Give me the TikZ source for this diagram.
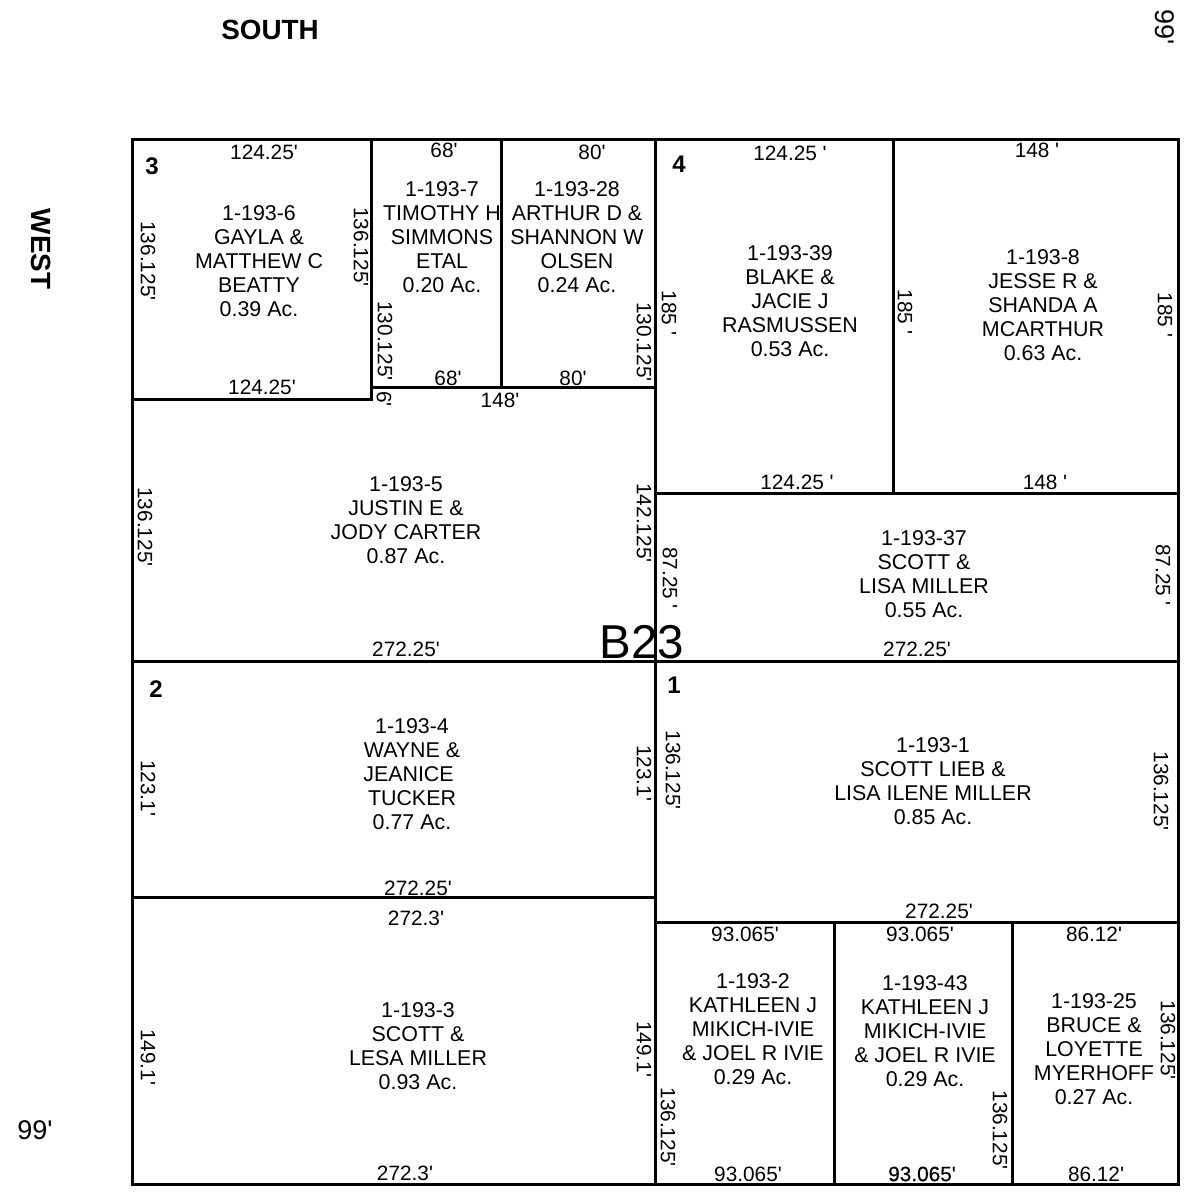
\documentclass[tikz,border=0pt]{standalone}
\usepackage{fontspec}
\setmonofont[WordSpace=1]{Liberation Sans}
\tikzset{
  lot/.style={line width=3pt,line cap=rect},
  lbl/.style={inner sep=0pt,align=center,font=\ttfamily\fontsize{21.4}{24}\selectfont},
  dim/.style={inner sep=0pt,align=center,font=\ttfamily\fontsize{20.8}{24}\selectfont},
  vert/.style={dim,rotate=-90},
  corner/.style={inner sep=0pt,font=\ttfamily\fontsize{24}{28}\bfseries\selectfont},
  head/.style={inner sep=0pt,font=\ttfamily\fontsize{27.8}{32}\bfseries\selectfont},
  big/.style={inner sep=0pt,font=\ttfamily\fontsize{27}{32}\selectfont}
}
\newcommand{\LL}[3]{\node[lbl] at (#1,#2) {#3};}
\newcommand{\DD}[3]{\node[dim] at (#1,#2) {#3};}
\newcommand{\VV}[3]{\node[vert] at (#1,#2) {#3};}
\begin{document}
\begin{tikzpicture}[x=1pt,y=-1pt]
\useasboundingbox (0,0) rectangle (1193,1192);
\fill[white] (0,0) rectangle (1193,1192);
\draw[lot] (132,139) rectangle (1178,1184);
\draw[lot] (655,139) -- (655,1184);
\draw[lot] (132,661) -- (1178,661);
\draw[lot] (371,139) -- (371,399) -- (132,399);
\draw[lot] (501,139) -- (501,387);
\draw[lot] (371,387) -- (655,387);
\draw[lot] (893,139) -- (893,493);
\draw[lot] (655,493) -- (1178,493);
\draw[lot] (132,897) -- (655,897);
\draw[lot] (655,922) -- (1178,922);
\draw[lot] (834,922) -- (834,1184);
\draw[lot] (1012,922) -- (1012,1184);
\node[head] at (270,30) {SOUTH};
\node[head,rotate=-90] at (41,249) {WEST};
\node[big,rotate=-90] at (1165,27) {99'};
\node[big] at (35,1130) {99'};
\node[lbl,font=\ttfamily\fontsize{47.5}{56}\selectfont] at (642,642) {B23};
\node[corner] at (152,166) {3};
\node[corner] at (679,164) {4};
\node[corner] at (156,689) {2};
\node[corner] at (674,685) {1};
% top block
\DD{264}{152}{124.25'}
\DD{444}{150}{68'}
\DD{592}{152}{80'}
\DD{790}{153}{124.25 '}
\DD{1037}{150}{148 '}
\LL{259}{261}{1-193-6\\GAYLA \&\\MATTHEW C\\BEATTY\\0.39 Ac.}
\LL{442}{237}{1-193-7\\TIMOTHY H\\SIMMONS\\ETAL\\0.20 Ac.}
\LL{577}{237}{1-193-28\\ARTHUR D \&\\SHANNON W\\OLSEN\\0.24 Ac.}
\LL{790}{301}{1-193-39\\BLAKE \&\\JACIE J\\RASMUSSEN\\0.53 Ac.}
\LL{1043}{305}{1-193-8\\JESSE R \&\\SHANDA A\\MCARTHUR\\0.63 Ac.}
\VV{148}{261}{136.125'}
\VV{361}{247}{136.125'}
\VV{385}{341}{130.125'}
\VV{644}{342}{130.125'}
\VV{669}{313}{185 '}
\VV{905}{312}{185 '}
\VV{1165}{315}{185 '}
\DD{262}{387}{124.25'}
\DD{448}{378}{68'}
\DD{573}{378}{80'}
\DD{500}{400}{148'}
\VV{384}{399}{6'}
\DD{797}{482}{124.25 '}
\DD{1045}{482}{148 '}
% lot 5 and 37
\LL{406}{520}{1-193-5\\JUSTIN E \&\\JODY CARTER\\0.87 Ac.}
\VV{145}{527}{136.125'}
\VV{644}{523}{142.125'}
\DD{406}{649}{272.25'}
\LL{924}{574}{1-193-37\\SCOTT \&\\LISA MILLER\\0.55 Ac.}
\VV{670}{578}{87.25 '}
\VV{1163}{575}{87.25 '}
\DD{917}{649}{272.25'}
% lot 4, 1
\LL{412}{774}{1-193-4\\WAYNE \&\\JEANICE\kern7pt\\TUCKER\\0.77 Ac.}
\VV{148}{788}{123.1'}
\VV{644}{773}{123.1'}
\DD{418}{888}{272.25'}
\LL{933}{781}{1-193-1\\SCOTT LIEB \&\\LISA ILENE MILLER\\0.85 Ac.}
\VV{673}{770}{136.125'}
\VV{1161}{791}{136.125'}
\DD{939}{911}{272.25'}
% lot 3 south
\DD{416}{918}{272.3'}
\LL{418}{1046}{1-193-3\\SCOTT \&\\LESA MILLER\\0.93 Ac.}
\VV{148}{1057}{149.1'}
\VV{644}{1049}{149.1'}
\DD{405}{1173}{272.3'}
% bottom-right
\DD{745}{934}{93.065'}
\DD{920}{934}{93.065'}
\DD{1094}{934}{86.12'}
\LL{753}{1029}{1-193-2\\KATHLEEN J\\MIKICH-IVIE\\\& JOEL R IVIE\\0.29 Ac.}
\LL{925}{1031}{1-193-43\\KATHLEEN J\\MIKICH-IVIE\\\& JOEL R IVIE\\0.29 Ac.}
\LL{1094}{1049}{1-193-25\\BRUCE \&\\LOYETTE\\MYERHOFF\\0.27 Ac.}
\VV{668}{1127}{136.125'}
\VV{1000}{1130}{136.125'}
\VV{1168}{1040}{136.125'}
\DD{748}{1174}{93.065'}
\DD{922}{1174}{\addfontfeature{FakeBold=0.4}93.065'}
\DD{1096}{1174}{86.12'}
\end{tikzpicture}
\end{document}
